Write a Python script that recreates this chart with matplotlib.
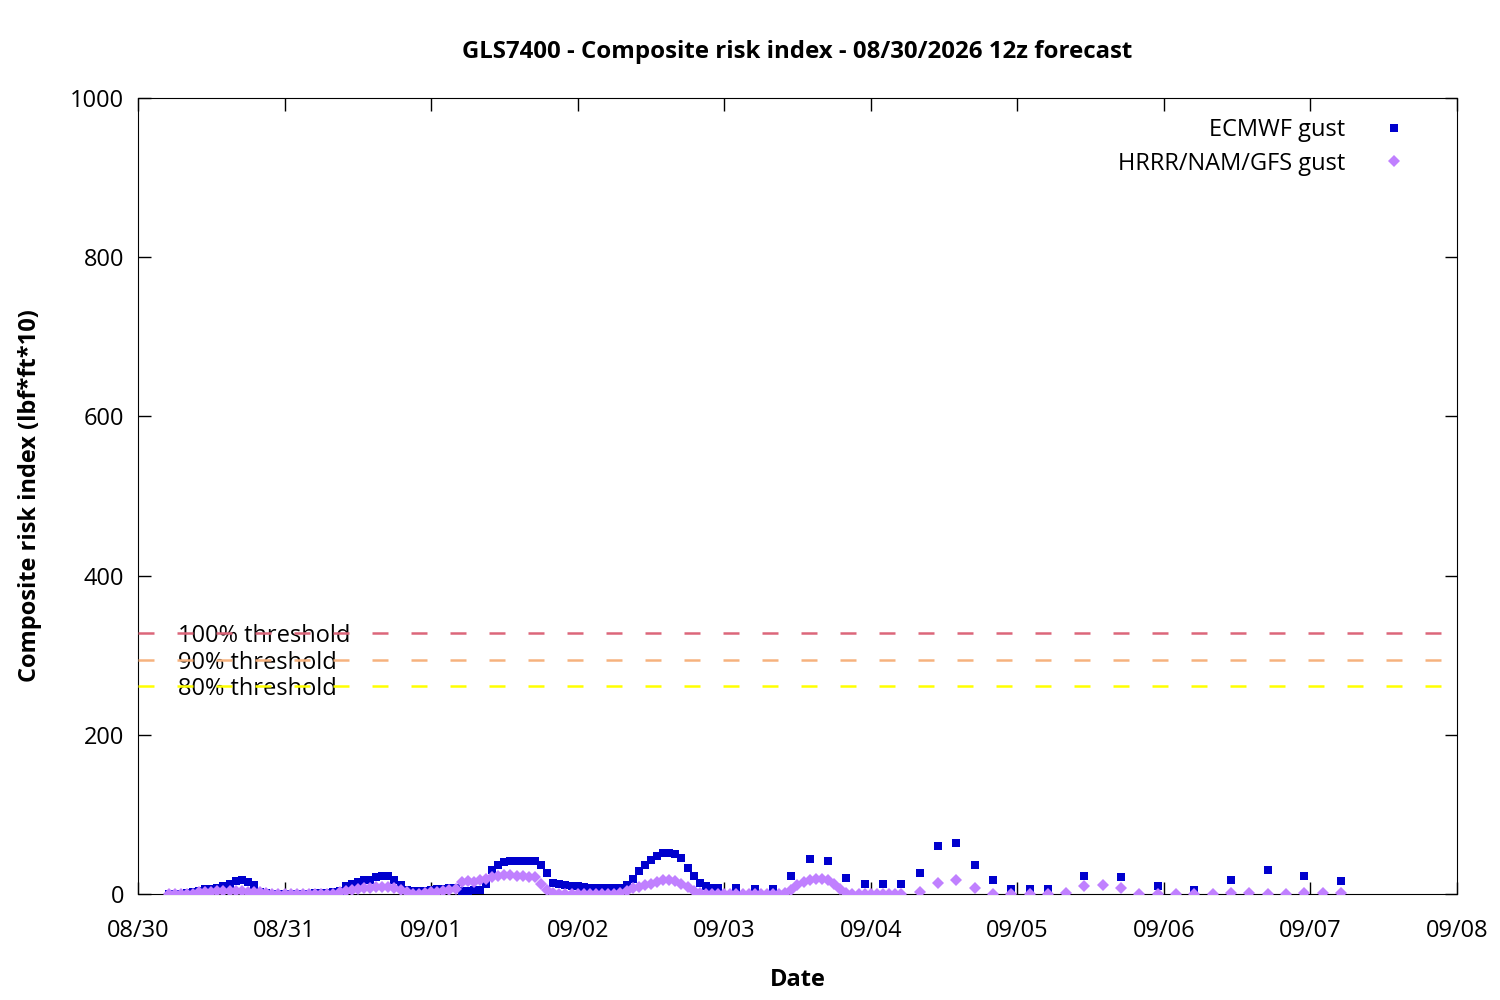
import matplotlib
matplotlib.use('Agg')
import matplotlib.pyplot as plt
import matplotlib.dates as mdates
import matplotlib.transforms as mtransforms
import numpy as np
import pandas as pd

plt.rcParams['font.family'] = ['Open Sans', 'Noto Sans', 'DejaVu Sans']

# run start (local time) and forecast hour grids
start = pd.Timestamp('2026-08-30 05:00')
ec_hours = list(range(0, 91)) + list(range(93, 145, 3)) + list(range(150, 193, 6))
gfs_hours = list(range(0, 121)) + list(range(123, 193, 3))

# ECMWF gust risk index
ecmwf = [
    0, 0, 0, 1, 2, 4, 6, 6, 8, 10, 13, 16, 17, 15, 11, 3, 1,
    0, 0, 0, 0, 0, 0, 0, 1, 1, 1, 2,
    4, 10, 13, 15, 17, 18, 21, 23, 23, 17, 11, 5, 4, 4, 4, 5, 6, 6, 7, 7,
    4, 4, 5, 5,
    12, 30, 37, 40, 42, 42, 42, 42, 41, 37, 26, 14, 12, 11, 10, 10, 9, 8, 8, 8, 8, 7, 7,
    11, 19, 29, 37, 43, 48, 52, 52, 50, 45, 33, 22, 14, 10, 8, 7,
    # 3-hourly
    7, 6, 6, 23, 44, 41, 20, 12, 13, 12, 26, 60, 64, 36, 17, 6, 6, 6,
    # 6-hourly
    22, 21, 10, 5, 18, 30, 23, 16,
]

# HRRR/NAM/GFS gust risk index
hrrr = [
    0, 0, 0, 0, 0,
    2, 3, 3, 4, 4, 4, 4, 4, 3, 3, 2, 1,
    0, 0, 0, 0, 0, 0, 0, 0, 0, 0, 0,
    3, 4, 5, 6, 7, 8, 9, 9, 9, 7, 5, 2, 0, 0, 1, 2, 3, 4, 5, 6,
    15, 16, 15, 17, 19, 21, 23, 24, 24, 23, 22, 21, 21, 12, 5, 1,
    0, 0, 0, 0, 0, 0, 0, 0, 0, 0, 1,
    4, 7, 9, 11, 13, 15, 17, 17, 16, 13, 9, 4, 1, 0,
    0, 0, 0, 0, 0, 0, 0, 0, 0, 0, 0, 0,
    1, 5, 11, 15, 18, 19, 19, 17, 12, 6, 1,
    0, 0, 0, 0, 0, 0, 0, 0, 0,
    # 3-hourly
    3, 14, 18, 8, 0, 0, 0, 0, 1, 10, 11, 7, 0, 0, 0, 0, 0, 1, 1, 0, 0, 1, 1, 1,
]

thresholds = [328, 294, 261]
threshold_labels = ['100% threshold', '90% threshold', '80% threshold']
threshold_colors = ['#dc667a', '#f6b27e', '#ffff00']

ec_time = start + pd.to_timedelta(ec_hours, unit='h')
gfs_time = start + pd.to_timedelta(gfs_hours, unit='h')

fs = 17

fig = plt.figure(figsize=(15, 10), dpi=100)
ax = fig.add_axes([0.092, 0.106, 0.8793, 0.796])

# labels sit under the dashed lines, baseline a bit below the line
label_trans = mtransforms.offset_copy(ax.get_yaxis_transform(), fig=fig, y=-9, units='dots')
lw = 1.8
for val, lab, col in zip(thresholds, threshold_labels, threshold_colors):
    ax.axhline(val, color=col, lw=lw, linestyle=(0, (6.4, 9.2)), zorder=3)
    ax.text(0.030, val, lab, transform=label_trans, fontsize=fs,
            va='baseline', ha='left', zorder=2)

ax.plot(ec_time, ecmwf, linestyle='none', marker='s', markersize=6.4,
        color='#0000cd', markeredgewidth=0, label='ECMWF gust', zorder=4)
ax.plot(gfs_time, hrrr, linestyle='none', marker='D', markersize=6.0,
        color='#c080ff', markeredgewidth=0, label='HRRR/NAM/GFS gust', zorder=5)

ax.set_xlim(pd.Timestamp('2026-08-30'), pd.Timestamp('2026-09-08'))
ax.set_ylim(0, 1000)
ax.xaxis.set_major_locator(mdates.DayLocator())
ax.xaxis.set_major_formatter(mdates.DateFormatter('%m/%d'))
ax.set_yticks([0, 200, 400, 600, 800, 1000])
ax.tick_params(direction='in', length=9, width=1, top=True, right=True, labelsize=fs)
ax.tick_params(axis='x', pad=18)
ax.tick_params(axis='y', pad=10)

ax.set_title('GLS7400 - Composite risk index - 08/30/2026 12z forecast',
             fontsize=17.3, fontweight='bold', pad=29)
ax.set_xlabel('Date', fontsize=fs, fontweight='bold', labelpad=18)
ax.set_ylabel('Composite risk index (lbf*ft*10)', fontsize=fs, fontweight='bold', labelpad=20)

ax.legend(loc='upper right', bbox_to_anchor=(0.9651, 0.981), frameon=False, markerfirst=False,
          fontsize=fs, handletextpad=1.6, borderaxespad=0, borderpad=0.2,
          labelspacing=0.42, handlelength=1.0)

fig.savefig('out.png', dpi=100)
